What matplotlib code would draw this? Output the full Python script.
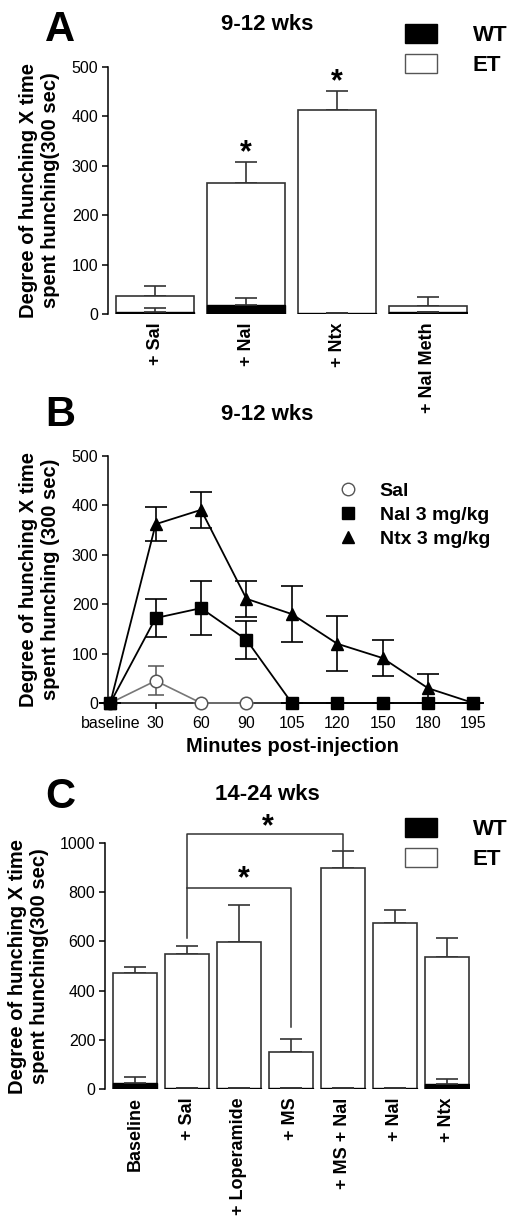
import matplotlib
matplotlib.use("Agg")
import matplotlib.pyplot as plt
from matplotlib.patches import Patch
from matplotlib.lines import Line2D
import numpy as np

plt.rcParams['font.family'] = ['Liberation Sans', 'DejaVu Sans']

# ---- data: panel A (9-12 wks, bars) ----
a_labels = ["+ Sal", "+ Nal", "+ Ntx", "+ Nal Meth"]
a_et = [37, 266, 412, 17]
a_et_err = [20, 41, 39, 17]
a_wt = [4, 19, 3, 4]
a_wt_err = [8, 14, 0, 0]

# ---- data: panel B (time course) ----
b_ticks = ["baseline", "30", "60", "90", "105", "120", "150", "180", "195"]
b_ntx = [0, 362, 391, 211, 180, 120, 91, 30, 0]
b_ntx_err = [0, 35, 36, 36, 56, 56, 36, 29, 0]
b_nal = [0, 172, 192, 128, 0, 0, 0, 0, 0]
b_nal_err = [0, 39, 54, 39, 0, 0, 0, 0, 0]
b_sal = [0, 45, 0, 0]
b_sal_err = [0, 29, 0, 0]

# ---- data: panel C (14-24 wks, bars) ----
c_labels = ["Baseline", "+ Sal", "+ Loperamide", "+ MS", "+ MS + Nal", "+ Nal", "+ Ntx"]
c_et = [473, 547, 599, 149, 899, 673, 538]
c_et_err = [24, 34, 151, 54, 69, 53, 77]
c_wt = [24, 3, 3, 3, 3, 3, 20]
c_wt_err = [25, 0, 0, 0, 0, 0, 21]

W, H = 532, 1230
fig = plt.figure(figsize=(W / 100, H / 100), dpi=100)


def box(l, t, r, b):
    return [l / W, 1 - b / H, (r - l) / W, (b - t) / H]


def style_axis(ax):
    for s in ['top', 'right']:
        ax.spines[s].set_visible(False)
    ax.spines['left'].set_linewidth(1.1)
    ax.spines['bottom'].set_linewidth(1.1)
    ax.tick_params(axis='y', direction='out', length=4, width=1.1, labelsize=11.5, pad=3)


def bar_panel(ax, labels, et, et_err, wt, wt_err, width):
    x = np.arange(len(labels))
    ax.bar(x, et, width=width, color='white', edgecolor='#333333', linewidth=1.2, zorder=2)
    ax.errorbar(x, et, yerr=[np.zeros(len(et)), et_err], fmt='none', ecolor='#333333',
                elinewidth=1.2, capsize=8, capthick=1.2, zorder=1)
    ax.bar(x, wt, width=width, color='black', edgecolor='black', linewidth=1.0, zorder=3)
    ax.errorbar(x, wt, yerr=[np.zeros(len(wt)), wt_err], fmt='none', ecolor='#333333',
                elinewidth=1.2, capsize=8, capthick=1.2, zorder=3)
    ax.set_xticks(x)
    ax.set_xticklabels(labels, rotation=90, fontsize=13, fontweight='bold')
    ax.tick_params(axis='x', length=0, pad=6)
    ax.spines['bottom'].set_visible(False)
    style_axis(ax)


ylab = "Degree of hunching X time\nspent hunching(300 sec)"
leg_kw = dict(loc='upper left', frameon=False, prop={'size': 16, 'weight': 'bold'},
              handlelength=1.45, handleheight=0.95, handletextpad=1.6,
              labelspacing=0.35, borderpad=0.0)

# ---------------- Panel A ----------------
axA = fig.add_axes(box(108, 67, 468, 314))
bar_panel(axA, a_labels, a_et, a_et_err, a_wt, a_wt_err, 0.857)
axA.set_xlim(-0.52, 3.44)
axA.set_ylim(0, 500)
axA.set_yticks(range(0, 501, 100))
axA.set_ylabel(ylab, fontsize=14.5, fontweight='bold', labelpad=8)
axA.text(1, 326, "*", ha='center', va='center', fontsize=22, fontweight='bold')
axA.text(2, 470, "*", ha='center', va='center', fontsize=22, fontweight='bold')

fig.text(45 / W, 1 - 30 / H, "A", fontsize=30, fontweight='bold', va='center')
fig.text(267 / W, 1 - 24 / H, "9-12 wks", fontsize=16, fontweight='bold', ha='center', va='center')

leg_handles = [Patch(facecolor='black', edgecolor='black', label='WT'),
               Patch(facecolor='white', edgecolor='#555555', label='ET')]
fig.legend(handles=leg_handles, bbox_to_anchor=(394 / W, 1 - 13 / H), **leg_kw)

# ---------------- Panel B ----------------
axB = fig.add_axes(box(108, 456, 477, 703))
xb = np.arange(len(b_ticks))
axB.errorbar(xb[:len(b_sal)], b_sal, yerr=b_sal_err, color='#777777', lw=1.2, marker='o',
             ms=9, mfc='white', mec='#555555', mew=1.1, capsize=6, ecolor='#555555',
             elinewidth=1.1, clip_on=False, zorder=3)
axB.errorbar(xb, b_nal, yerr=b_nal_err, color='black', lw=1.3, marker='s', ms=8,
             capsize=8, elinewidth=1.2, capthick=1.2, clip_on=False, zorder=4)
axB.errorbar(xb, b_ntx, yerr=b_ntx_err, color='black', lw=1.3, marker='^', ms=9,
             capsize=8, elinewidth=1.2, capthick=1.2, clip_on=False, zorder=5)
axB.set_xlim(-0.05, 8.08)
axB.set_ylim(0, 500)
axB.set_yticks(range(0, 501, 100))
axB.set_xticks(xb)
axB.set_xticklabels(b_ticks, fontsize=11.5)
axB.tick_params(axis='x', direction='out', length=4, width=1.1, pad=5)
style_axis(axB)
axB.set_ylabel("Degree of hunching X time\nspent hunching (300 sec)", fontsize=14.5,
               fontweight='bold', labelpad=8)
axB.set_xlabel("Minutes post-injection", fontsize=14.5, fontweight='bold', labelpad=5)

b_handles = [Line2D([], [], ls='none', marker='o', ms=9, mfc='white', mec='#555555', label='Sal'),
             Line2D([], [], ls='none', marker='s', ms=8, color='black', label='Nal 3 mg/kg'),
             Line2D([], [], ls='none', marker='^', ms=9, color='black', label='Ntx 3 mg/kg')]
axB.legend(handles=b_handles, loc='upper left', bbox_to_anchor=(327 / W, 1 - 471 / H),
           bbox_transform=fig.transFigure, frameon=False,
           prop={'size': 14, 'weight': 'bold'}, handlelength=1.0, handletextpad=1.1,
           labelspacing=0.32, borderpad=0.1)

fig.text(45 / W, 1 - 415 / H, "B", fontsize=30, fontweight='bold', va='center')
fig.text(267 / W, 1 - 415 / H, "9-12 wks", fontsize=16, fontweight='bold', ha='center', va='center')

# ---------------- Panel C ----------------
axC = fig.add_axes(box(105, 843, 470, 1089))
bar_panel(axC, c_labels, c_et, c_et_err, c_wt, c_wt_err, 0.846)
axC.set_xlim(-0.58, 6.45)
axC.set_ylim(0, 1000)
axC.set_yticks(range(0, 1001, 200))
axC.set_ylabel(ylab, fontsize=14.5, fontweight='bold', labelpad=8)

# significance brackets
axC.plot([1, 1, 4, 4], [613, 1036, 1036, 972], color='#333333', lw=1.1, clip_on=False)
axC.plot([1, 3, 3], [817, 817, 252], color='#333333', lw=1.1, clip_on=False)
axC.text(2.56, 1062, "*", ha='center', va='center', fontsize=22, fontweight='bold')
axC.text(2.1, 851, "*", ha='center', va='center', fontsize=22, fontweight='bold')

fig.text(45 / W, 1 - 797 / H, "C", fontsize=30, fontweight='bold', va='center')
fig.text(267 / W, 1 - 794 / H, "14-24 wks", fontsize=16, fontweight='bold', ha='center', va='center')
fig.legend(handles=leg_handles, bbox_to_anchor=(394 / W, 1 - 807 / H), **leg_kw)

fig.savefig("out.png", dpi=100)
